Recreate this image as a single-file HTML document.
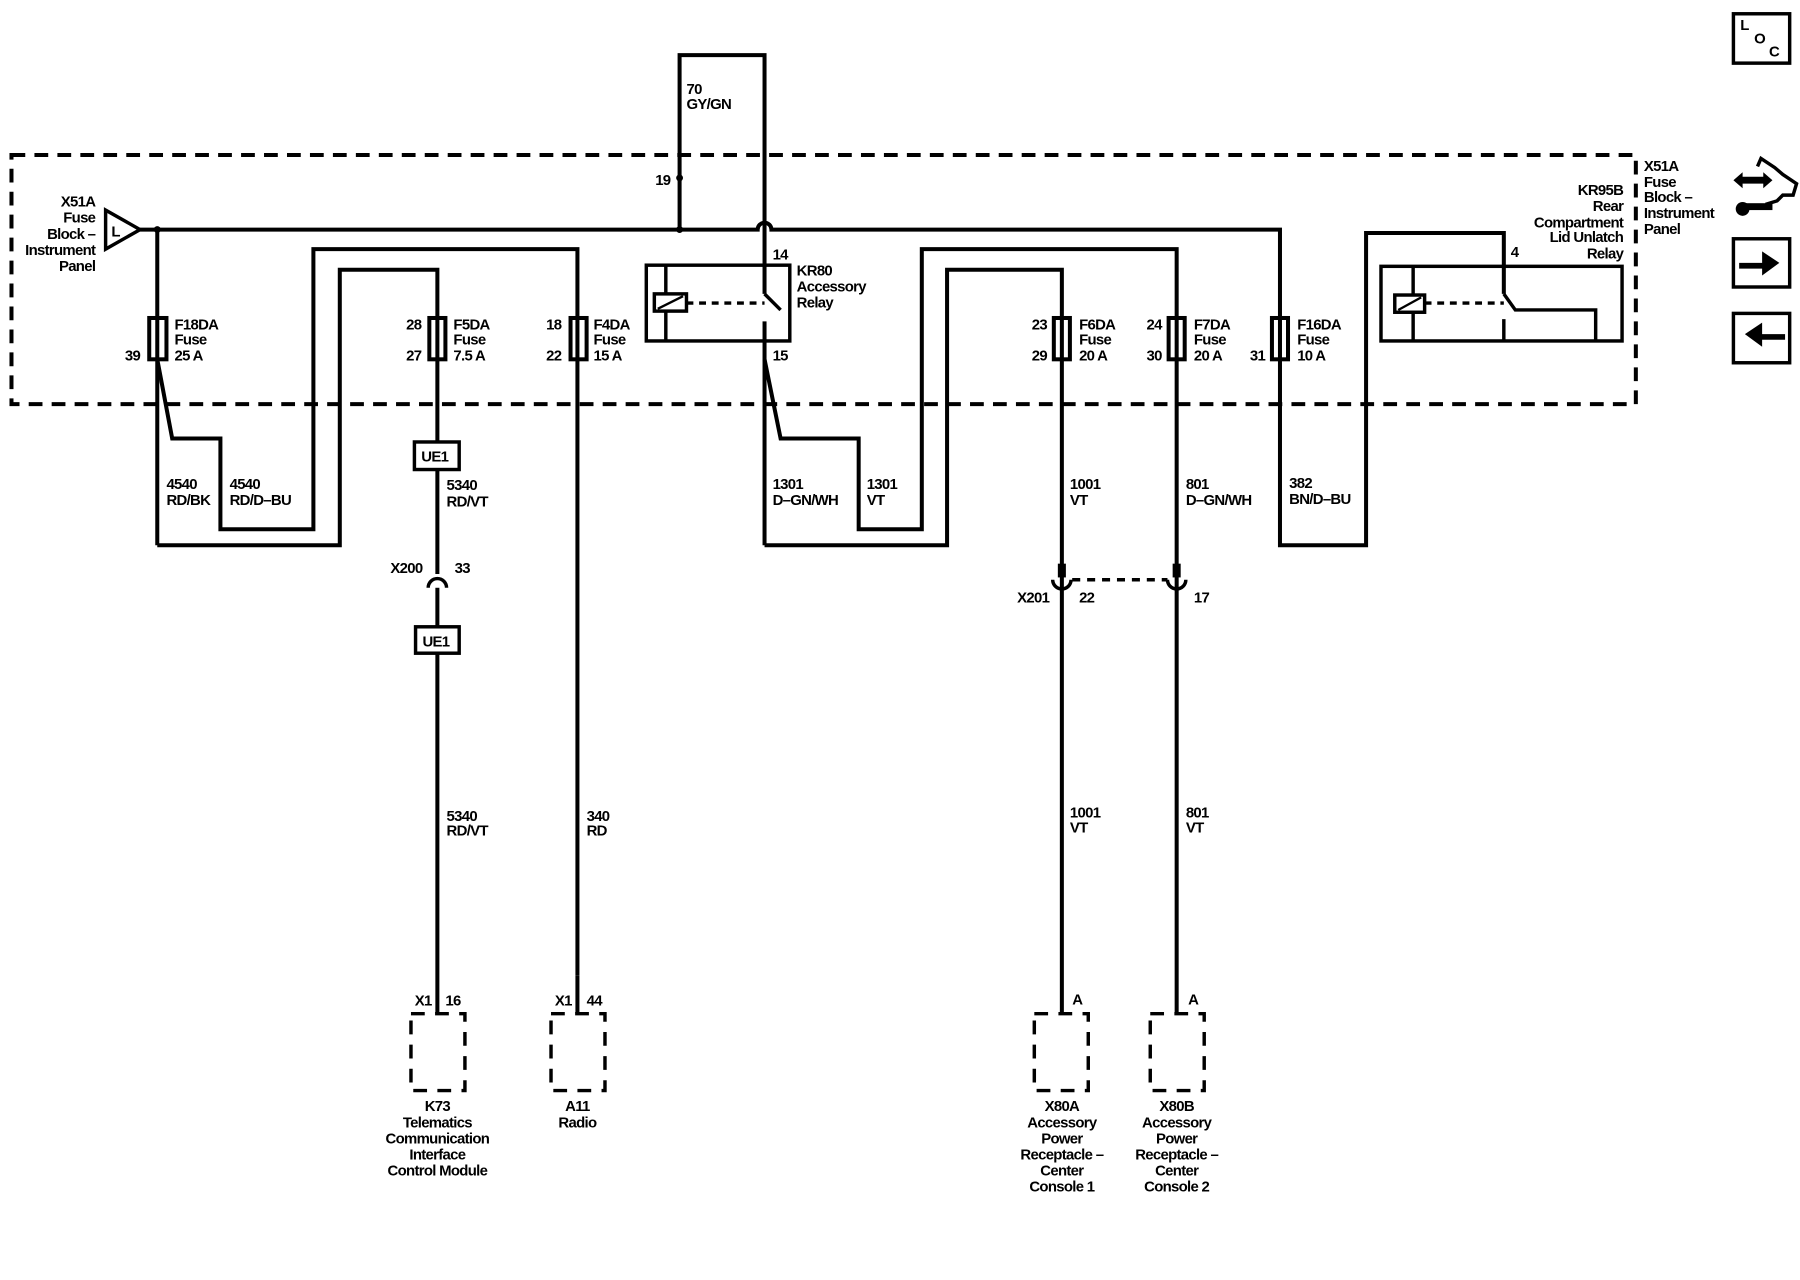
<!DOCTYPE html>
<html><head><meta charset="utf-8"><style>
html,body{margin:0;padding:0;background:#fff;}
svg{display:block}
text{font-family:"Liberation Sans",Arial,sans-serif;font-size:13px;font-weight:bold;fill:#000;letter-spacing:-0.6px}
</style></head><body>
<svg width="1800" height="1280" viewBox="0 0 1568 1115" preserveAspectRatio="none" xmlns="http://www.w3.org/2000/svg">
<g fill="none" stroke="#000" stroke-width="3.5">
<rect x="10" y="135" width="1415" height="217" stroke-dasharray="12,8"/>
<polyline points="122,200 592,200"/>
<path d="M592,200 H660 A6,6 0 0 1 672,200 H1115 V475 H1190 V203 H1310 V256"/>
<polygon points="92,183 92,217 122,200" stroke-width="3"/>
<polyline points="592,200 592,48 666,48 666,256"/>
<line x1="137" y1="200" x2="137" y2="475"/>
<polyline points="137,313 150,382 192,382 192,461 273,461 273,217 503,217 503,850"/>
<polyline points="137,475 296,475 296,235 381,235 381,385"/>
<line x1="381" y1="409" x2="381" y2="500"/>
<line x1="381" y1="512" x2="381" y2="546"/>
<line x1="381" y1="569" x2="381" y2="883"/>
<rect x="130" y="277" width="15" height="36"/>
<rect x="374" y="277" width="14" height="36"/>
<rect x="497" y="277" width="14" height="36"/>
<rect x="361" y="385" width="39" height="24" stroke-width="3"/>
<rect x="362" y="546" width="38" height="23" stroke-width="3"/>
<path d="M373,512 A8,8 0 0 1 389,512" stroke-width="3"/>
<rect x="563" y="231" width="125" height="66" stroke-width="3"/>
<line x1="580" y1="231" x2="580" y2="297" stroke-width="3"/>
<rect x="570" y="256" width="28" height="15" fill="#fff" stroke-width="3"/>
<line x1="573" y1="269" x2="595" y2="258" stroke-width="2"/>
<line x1="598" y1="264" x2="666" y2="264" stroke-width="3" stroke-dasharray="6,5"/>
<line x1="666" y1="256" x2="680" y2="270" stroke-width="3"/>
<line x1="666" y1="280" x2="666" y2="475"/>
<polyline points="666,313 680,382 748,382 748,461 803,461 803,217 1025,217 1025,883"/>
<polyline points="666,475 825,475 825,235 925,235 925,883"/>
<rect x="918" y="277" width="14" height="36"/>
<rect x="1018" y="277" width="14" height="36"/>
<rect x="1108" y="277" width="14" height="36"/>
<line x1="925" y1="491" x2="925" y2="503" stroke-width="7"/>
<line x1="1025" y1="491" x2="1025" y2="503" stroke-width="7"/>
<path d="M917,505 A8,8 0 0 0 933,505" stroke-width="3"/>
<path d="M1017,505 A8,8 0 0 0 1033,505" stroke-width="3"/>
<line x1="934" y1="505" x2="1017" y2="505" stroke-width="3" stroke-dasharray="7,6"/>
<rect x="1203" y="232" width="210" height="65" stroke-width="3"/>
<line x1="1231" y1="232" x2="1231" y2="297" stroke-width="3"/>
<rect x="1215" y="257" width="26" height="15" fill="#fff" stroke-width="3"/>
<line x1="1218" y1="270" x2="1238" y2="259" stroke-width="2"/>
<line x1="1241" y1="264" x2="1310" y2="264" stroke-width="3" stroke-dasharray="6,5"/>
<polyline points="1310,256 1320,270 1390,270 1390,297" stroke-width="3"/>
<line x1="1310" y1="278" x2="1310" y2="297" stroke-width="3"/>
<g stroke-width="3" stroke-dasharray="12,9">
<rect x="358" y="883" width="47" height="67"/>
<rect x="480" y="883" width="47" height="67"/>
<rect x="901" y="883" width="47" height="67"/>
<rect x="1002" y="883" width="47" height="67"/>
</g>
<line x1="503" y1="850" x2="503" y2="883"/>
<rect x="1510" y="12" width="49" height="43" stroke-width="3"/>
<rect x="1510" y="208" width="49" height="42" stroke-width="3"/>
<rect x="1510" y="273" width="49" height="43" stroke-width="3"/>
<path d="M1531,145 L1534,138 L1546,146 L1553,152 L1565,160 L1562,170 L1553,170 L1548,175 L1538,178" stroke-width="3"/>
</g>
<g fill="#000">
<circle cx="137" cy="200" r="3"/><circle cx="592" cy="200" r="3"/><circle cx="592" cy="155" r="3"/>
<polygon points="1515,229 1535,229 1535,219 1550,229 1535,240 1535,234 1515,234"/>
<polygon points="1555,291 1535,291 1535,281 1520,291 1535,302 1535,296 1555,296"/>
<polygon points="1510,157 1518,150 1518,154 1536,154 1536,150 1544,157 1536,164 1536,160 1518,160 1518,164"/>
<rect x="1518" y="177" width="26" height="6"/>
<circle cx="1518" cy="182" r="6"/>
</g>
<text x="97" y="206" font-size="12">L</text>
<text x="1516" y="26" font-size="11">L</text><text x="1528" y="38" font-size="11">O</text><text x="1541" y="49" font-size="11">C</text>
<g text-anchor="end">
<text x="83" y="180">X51A</text><text x="83" y="194">Fuse</text><text x="83" y="208">Block –</text><text x="83" y="222">Instrument</text><text x="83" y="236">Panel</text>
<text x="1414" y="170">KR95B</text><text x="1414" y="184">Rear</text><text x="1414" y="198">Compartment</text><text x="1414" y="211">Lid Unlatch</text><text x="1414" y="225">Relay</text>
<text x="584" y="161">19</text>
<text x="122" y="314">39</text>
<text x="367" y="287">28</text><text x="367" y="314">27</text>
<text x="489" y="287">18</text><text x="489" y="314">22</text>
<text x="912" y="287">23</text><text x="912" y="314">29</text>
<text x="1012" y="287">24</text><text x="1012" y="314">30</text>
<text x="1102" y="314">31</text>
<text x="368" y="499">X200</text>
<text x="914" y="525">X201</text>
<text x="376" y="876">X1</text><text x="498" y="876">X1</text>
</g>
<text x="1432" y="149">X51A</text><text x="1432" y="163">Fuse</text><text x="1432" y="176">Block –</text><text x="1432" y="190">Instrument</text><text x="1432" y="204">Panel</text>
<text x="598" y="82">70</text><text x="598" y="95">GY/GN</text>
<text x="673" y="226">14</text><text x="673" y="314">15</text>
<text x="694" y="240">KR80</text><text x="694" y="254">Accessory</text><text x="694" y="268">Relay</text>
<text x="1316" y="224">4</text>
<text x="152" y="287">F18DA</text><text x="152" y="300">Fuse</text><text x="152" y="314">25 A</text>
<text x="395" y="287">F5DA</text><text x="395" y="300">Fuse</text><text x="395" y="314">7.5 A</text>
<text x="517" y="287">F4DA</text><text x="517" y="300">Fuse</text><text x="517" y="314">15 A</text>
<text x="940" y="287">F6DA</text><text x="940" y="300">Fuse</text><text x="940" y="314">20 A</text>
<text x="1040" y="287">F7DA</text><text x="1040" y="300">Fuse</text><text x="1040" y="314">20 A</text>
<text x="1130" y="287">F16DA</text><text x="1130" y="300">Fuse</text><text x="1130" y="314">10 A</text>
<text x="145" y="426">4540</text><text x="145" y="440">RD/BK</text>
<text x="200" y="426">4540</text><text x="200" y="440">RD/D–BU</text>
<text x="389" y="427">5340</text><text x="389" y="441">RD/VT</text>
<text x="673" y="426">1301</text><text x="673" y="440">D–GN/WH</text>
<text x="755" y="426">1301</text><text x="755" y="440">VT</text>
<text x="932" y="426">1001</text><text x="932" y="440">VT</text>
<text x="1033" y="426">801</text><text x="1033" y="440">D–GN/WH</text>
<text x="1123" y="425">382</text><text x="1123" y="439">BN/D–BU</text>
<text x="396" y="499">33</text>
<text x="940" y="525">22</text><text x="1040" y="525">17</text>
<text x="389" y="715">5340</text><text x="389" y="728">RD/VT</text>
<text x="511" y="715">340</text><text x="511" y="728">RD</text>
<text x="932" y="712">1001</text><text x="932" y="725">VT</text>
<text x="1033" y="712">801</text><text x="1033" y="725">VT</text>
<text x="388" y="876">16</text><text x="511" y="876">44</text>
<text x="934" y="875">A</text><text x="1035" y="875">A</text>
<g text-anchor="middle">
<text x="381" y="968">K73</text><text x="381" y="982">Telematics</text><text x="381" y="996">Communication</text><text x="381" y="1010">Interface</text><text x="381" y="1024">Control Module</text>
<text x="503" y="968">A11</text><text x="503" y="982">Radio</text>
<text x="925" y="968">X80A</text><text x="925" y="982">Accessory</text><text x="925" y="996">Power</text><text x="925" y="1010">Receptacle –</text><text x="925" y="1024">Center</text><text x="925" y="1038">Console 1</text>
<text x="1025" y="968">X80B</text><text x="1025" y="982">Accessory</text><text x="1025" y="996">Power</text><text x="1025" y="1010">Receptacle –</text><text x="1025" y="1024">Center</text><text x="1025" y="1038">Console 2</text>
</g>
<text x="367" y="402" font-size="13">UE1</text>
<text x="368" y="563" font-size="13">UE1</text>
</svg>
</body></html>
